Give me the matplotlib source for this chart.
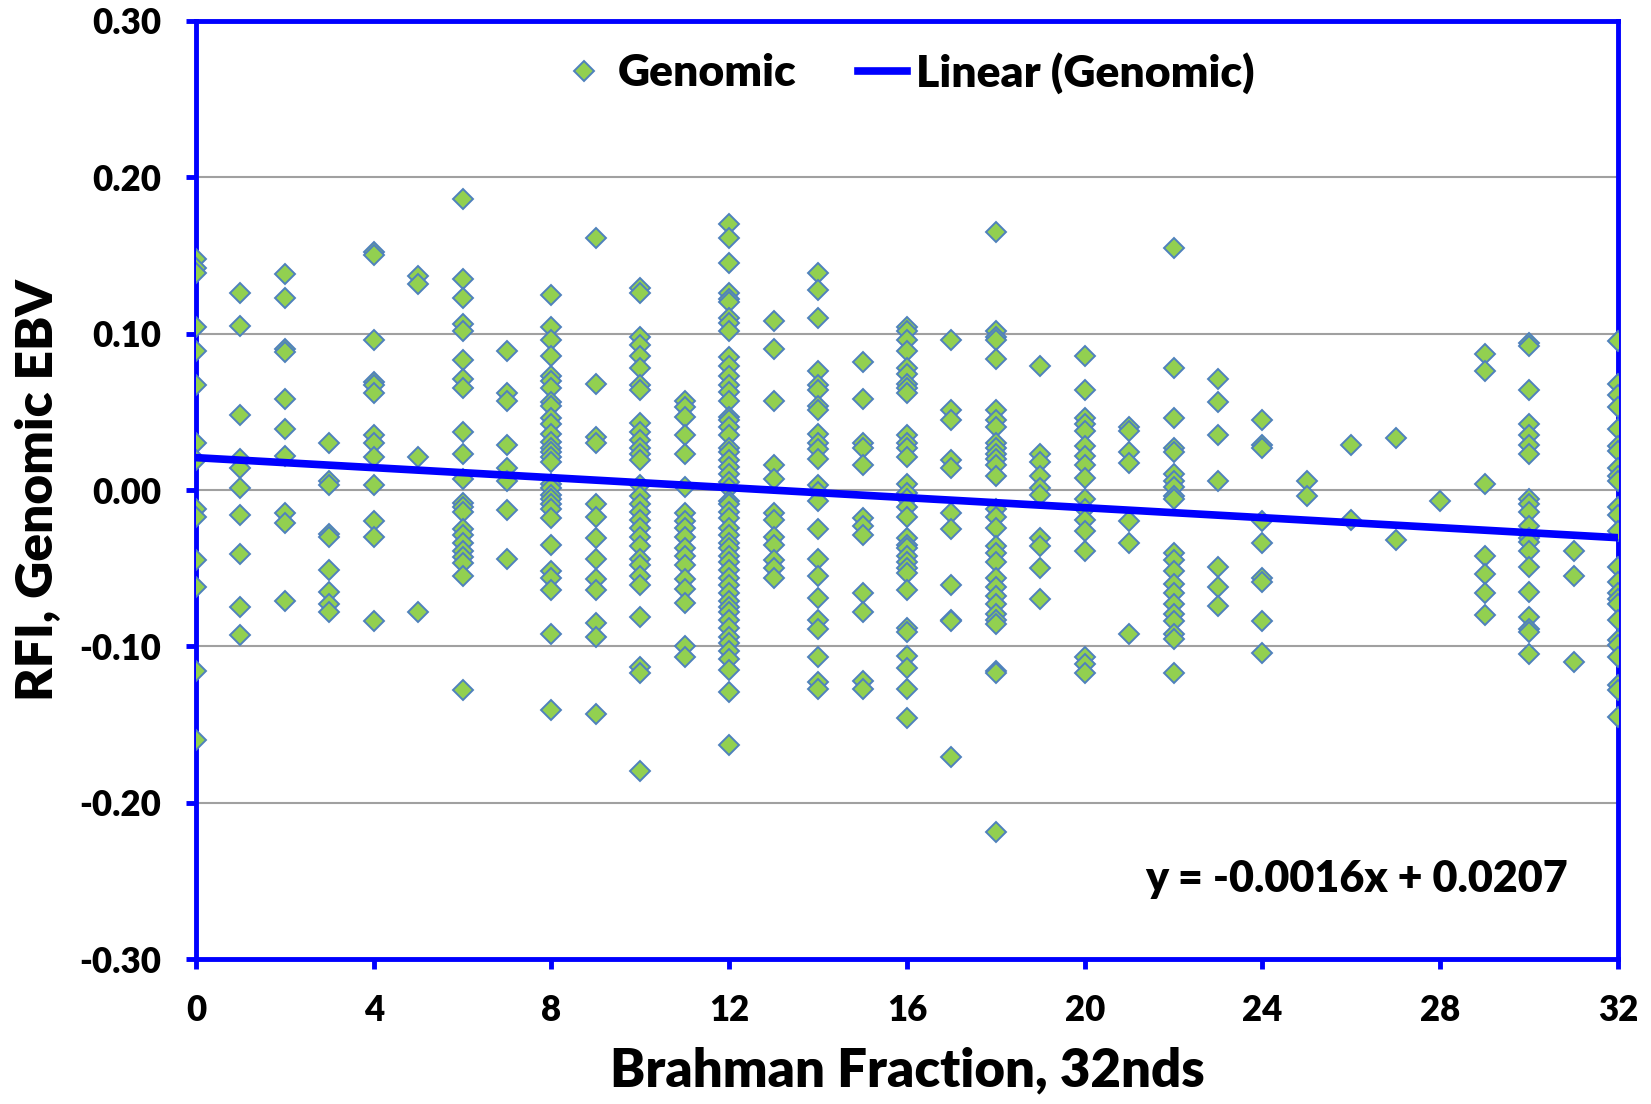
import numpy as np
import matplotlib
matplotlib.use("Agg")
from matplotlib import pyplot as plt
from matplotlib.ticker import FormatStrFormatter

# Brahman fraction (32nds) -> genomic EBV values
ebv = {
    0: [0.148, 0.142, 0.139, 0.104, 0.089, 0.067, 0.030, 0.019, -0.012, -0.017,
        -0.045, -0.062, -0.116, -0.160],
    1: [0.126, 0.105, 0.048, 0.020, 0.014, 0.001, -0.016, -0.041, -0.075, -0.093],
    2: [0.138, 0.123, 0.090, 0.088, 0.058, 0.039, 0.022, -0.015, -0.021, -0.071],
    3: [0.030, 0.006, 0.003, -0.028, -0.030, -0.051, -0.065, -0.073, -0.078],
    4: [0.152, 0.150, 0.096, 0.069, 0.067, 0.062, 0.035, 0.030, 0.021, 0.003,
        -0.020, -0.030, -0.084],
    5: [0.137, 0.132, 0.021, -0.078],
    6: [0.186, 0.135, 0.123, 0.106, 0.102, 0.083, 0.071, 0.065, 0.037, 0.023,
        0.007, -0.008, -0.011, -0.014, -0.025, -0.029, -0.034, -0.039, -0.043,
        -0.047, -0.055, -0.128],
    7: [0.089, 0.062, 0.057, 0.029, 0.014, 0.006, -0.013, -0.044],
    8: [0.125, 0.104, 0.096, 0.086, 0.073, 0.070, 0.065, 0.056, 0.054, 0.046,
        0.042, 0.036, 0.031, 0.027, 0.024, 0.021, 0.018, 0.004, 0.001, -0.003,
        -0.006, -0.009, -0.012, -0.018, -0.035, -0.052, -0.056, -0.064, -0.092,
        -0.141],
    9: [0.161, 0.068, 0.034, 0.030, -0.009, -0.017, -0.031, -0.044, -0.057,
        -0.064, -0.085, -0.094, -0.143],
    10: [0.129, 0.126, 0.098, 0.093, 0.086, 0.078, 0.067, 0.064, 0.043, 0.037,
         0.032, 0.027, 0.023, 0.019, 0.003, -0.004, -0.009, -0.014, -0.019,
         -0.024, -0.030, -0.036, -0.044, -0.048, -0.055, -0.061, -0.081, -0.113,
         -0.117, -0.180],
    11: [0.057, 0.053, 0.047, 0.035, 0.023, 0.002, -0.015, -0.020, -0.024,
         -0.030, -0.037, -0.042, -0.048, -0.057, -0.063, -0.072, -0.100, -0.107],
    12: [0.170, 0.161, 0.145, 0.126, 0.122, 0.120, 0.110, 0.107, 0.102, 0.085,
         0.079, 0.073, 0.067, 0.063, 0.057, 0.047, 0.045, 0.040, 0.035, 0.027,
         0.024, 0.019, 0.015, 0.010, 0.005, 0.001, -0.007, -0.009, -0.014,
         -0.018, -0.024, -0.029, -0.034, -0.037, -0.042, -0.046, -0.051, -0.056,
         -0.061, -0.066, -0.071, -0.075, -0.078, -0.083, -0.088, -0.094, -0.098,
         -0.103, -0.108, -0.115, -0.129, -0.163],
    13: [0.108, 0.090, 0.057, 0.016, 0.007, -0.015, -0.019, -0.030, -0.035,
         -0.045, -0.050, -0.056],
    14: [0.139, 0.128, 0.110, 0.076, 0.067, 0.064, 0.054, 0.051, 0.036, 0.030,
         0.026, 0.020, 0.003, -0.001, -0.007, -0.025, -0.044, -0.055, -0.069,
         -0.083, -0.089, -0.107, -0.123, -0.127],
    15: [0.082, 0.058, 0.030, 0.027, 0.016, -0.018, -0.023, -0.029, -0.066,
         -0.078, -0.122, -0.127],
    16: [0.104, 0.102, 0.096, 0.089, 0.078, 0.074, 0.068, 0.065, 0.062, 0.035,
         0.030, 0.027, 0.021, 0.004, -0.002, -0.006, -0.011, -0.017, -0.031,
         -0.035, -0.037, -0.042, -0.046, -0.050, -0.053, -0.064, -0.088, -0.091,
         -0.106, -0.114, -0.127, -0.146],
    17: [0.096, 0.051, 0.045, 0.019, 0.014, -0.015, -0.025, -0.061, -0.083,
         -0.084, -0.171],
    18: [0.165, 0.102, 0.098, 0.096, 0.084, 0.051, 0.045, 0.040, 0.030, 0.027,
         0.023, 0.020, 0.016, 0.009, -0.012, -0.017, -0.024, -0.036, -0.040,
         -0.046, -0.056, -0.062, -0.068, -0.073, -0.079, -0.083, -0.086, -0.116,
         -0.117, -0.219],
    19: [0.079, 0.023, 0.018, 0.009, 0.001, -0.003, -0.031, -0.036, -0.050,
         -0.070],
    20: [0.086, 0.064, 0.046, 0.042, 0.038, 0.028, 0.022, 0.016, 0.008, -0.006,
         -0.012, -0.019, -0.026, -0.039, -0.107, -0.111, -0.117],
    21: [0.040, 0.038, 0.024, 0.017, -0.020, -0.034, -0.092],
    22: [0.155, 0.078, 0.046, 0.027, 0.024, 0.010, 0.006, 0.002, -0.004, -0.006,
         -0.040, -0.045, -0.052, -0.060, -0.066, -0.073, -0.079, -0.084, -0.092,
         -0.095, -0.117],
    23: [0.071, 0.056, 0.035, 0.006, -0.049, -0.062, -0.074],
    24: [0.045, 0.029, 0.027, -0.020, -0.034, -0.056, -0.059, -0.084, -0.104],
    25: [0.006, -0.004],
    26: [0.029, -0.019],
    27: [0.033, -0.032],
    28: [-0.007],
    29: [0.087, 0.076, 0.004, -0.042, -0.054, -0.066, -0.080],
    30: [0.094, 0.092, 0.064, 0.042, 0.035, 0.029, 0.023, -0.006, -0.009,
         -0.014, -0.023, -0.031, -0.033, -0.039, -0.049, -0.065, -0.081, -0.089,
         -0.091, -0.105],
    31: [-0.039, -0.055, -0.110],
    32: [0.095, 0.068, 0.061, 0.053, 0.039, 0.028, 0.025, 0.014, 0.009, 0.006,
         -0.011, -0.016, -0.026, -0.049, -0.059, -0.066, -0.070, -0.073, -0.083,
         -0.096, -0.099, -0.107, -0.125, -0.128, -0.145],
}

slope = -0.0016
intercept = 0.0207

x = []
y = []
for frac, vals in ebv.items():
    x += [frac] * len(vals)
    y += vals

plt.rcParams['font.family'] = ['Lato', 'DejaVu Sans']
plt.rcParams['font.weight'] = 'bold'

fig = plt.figure(figsize=(16.51, 11.04), dpi=100)
ax = fig.add_axes([0.1187, 0.1313, 0.8613, 0.8497])

ax.plot(x, y, linestyle='none', marker='D', markersize=10.5,
        markerfacecolor='#92D050', markeredgecolor='#4F81BD',
        markeredgewidth=1.4, label='Genomic', zorder=3)

xs = np.array([0, 32])
ax.plot(xs, slope * xs + intercept, color='#0000FF', linewidth=5.5,
        label='Linear (Genomic)', zorder=4)

ax.set_xlim(0, 32)
ax.set_ylim(-0.30, 0.30)
ax.set_xticks(np.arange(0, 33, 4))
ax.set_yticks(np.arange(-0.30, 0.31, 0.10))
ax.yaxis.set_major_formatter(FormatStrFormatter('%.2f'))
ax.grid(True, axis='y', color='#A0A0A0', linewidth=1.5)
ax.set_axisbelow(True)

for sp in ax.spines.values():
    sp.set_color('#0000FF')
    sp.set_linewidth(3.5)
ax.tick_params(direction='out', color='#0000FF', width=3.5, length=7,
               labelsize=25)
ax.tick_params(axis='x', pad=18)
ax.tick_params(axis='y', pad=18)
for lbl in ax.get_xticklabels() + ax.get_yticklabels():
    lbl.set_fontweight('heavy')

ax.set_xlabel('Brahman Fraction, 32nds', fontsize=38, fontweight='heavy',
              labelpad=14)
ax.set_ylabel('RFI, Genomic EBV', fontsize=37, fontweight='heavy',
              labelpad=14)

ax.text(0.965, 0.085, 'y = -0.0016x + 0.0207', transform=ax.transAxes,
        ha='right', va='center', fontsize=31, fontweight='heavy')

ax.legend(loc='upper center', ncol=2, frameon=False,
          prop={'size': 32, 'weight': 'heavy'},
          bbox_to_anchor=(0.5, 1.01), handlelength=1.1, columnspacing=1.4,
          handletextpad=0.2)

fig.savefig('out.png', dpi=100)
